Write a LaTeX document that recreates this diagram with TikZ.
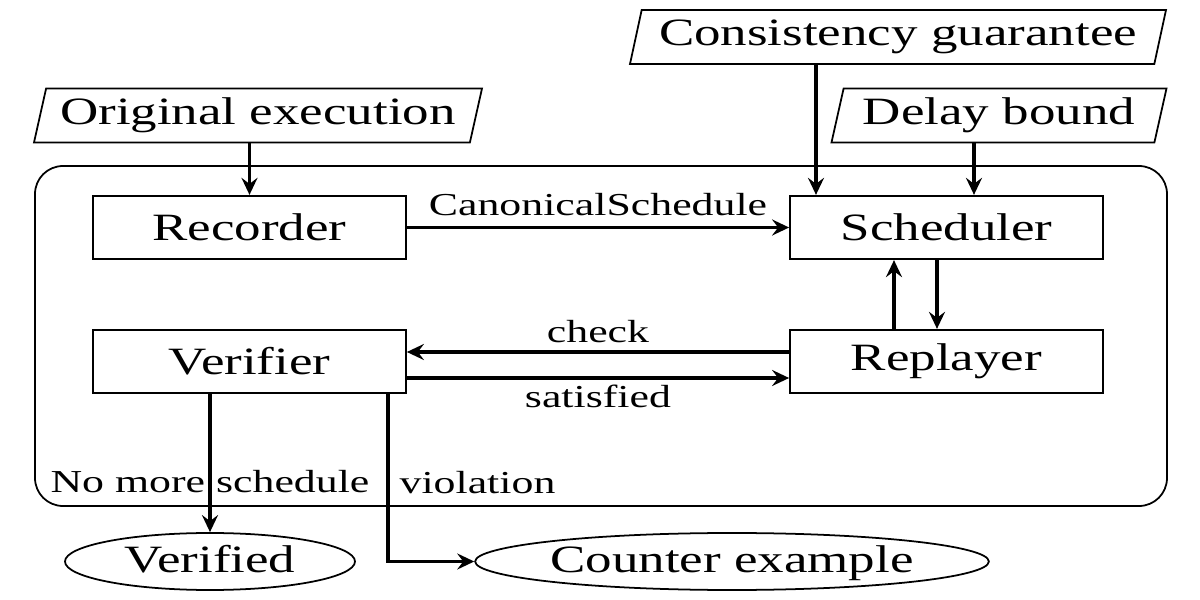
\documentclass[tikz,border=0pt]{standalone}
\usepackage{fontspec}
\setmainfont{Liberation Serif}[FakeStretch=1.37]
\usetikzlibrary{shapes.geometric,arrows.meta}

\begin{document}
\begin{tikzpicture}[thick,
  block node/.style={rectangle,draw,line width=0.5pt,minimum width=3.13cm,minimum height=0.635cm,inner sep=0pt,font=\fontsize{11}{13}\selectfont},
  input node/.style={trapezium,trapezium left angle=71,trapezium right angle=109,trapezium stretches body,draw,line width=0.5pt,minimum height=0.54cm,inner ysep=0pt,font=\fontsize{11}{13}\selectfont},
  end node/.style={ellipse,draw,line width=0.5pt,minimum height=0.57cm,inner sep=0pt,text height=0.26cm,text depth=0.03cm,font=\fontsize{11}{13}\selectfont},
  frame node/.style={rectangle,draw,line width=0.5pt,rounded corners=0.28cm,minimum width=11.32cm,minimum height=3.40cm},
  label node/.style={font=\fontsize{9.1}{11}\selectfont,inner sep=1pt},
  flow/.style={-{Stealth[length=0.17cm,width=0.16cm,inset=0.06cm]},line width=0.9pt}]
\useasboundingbox (0,0) rectangle (12,6);

\node[frame node] (frame) at (6.01,2.64) {};

\node[block node] (rec) at (2.495,3.725) {Recorder};
\node[block node] (sched) at (9.465,3.725) {Scheduler};
\node[block node] (ver) at (2.495,2.385) {Verifier};
\node[block node] (rep) at (9.465,2.385) {Replayer};

\node[input node,minimum width=4.48cm] (orig) at (2.58,4.845) {Original execution};
\node[input node,minimum width=5.36cm] (cons) at (8.98,5.63) {Consistency guarantee};
\node[input node,minimum width=3.35cm] (delay) at (9.99,4.845) {Delay bound};

\node[end node,minimum width=2.90cm] (verified) at (2.10,0.385) {Verified};
\node[end node,minimum width=5.12cm] (counter) at (7.32,0.385) {Counter example};

\coordinate (consin) at ([xshift=-1.305cm]sched.north);
\coordinate (delayin) at ([xshift=0.275cm]sched.north);
\coordinate (upin) at ([xshift=-0.525cm]rep.north);
\coordinate (downin) at ([xshift=-0.095cm]sched.south);
\coordinate (checkout) at ([yshift=0.095cm]rep.west);
\coordinate (satout) at ([yshift=-0.165cm]ver.east);
\coordinate (violout) at ([xshift=1.385cm]ver.south);

\path[flow]
(orig.south -| rec.north) edge (rec.north)
(cons.south -| consin) edge (consin)
(delay.south -| delayin) edge (delayin)
(rec) edge node[label node,above=1.85pt] (canon) {CanonicalSchedule} (sched)
(upin) edge (upin |- sched.south)
(downin) edge (downin |- rep.north)
(checkout) edge node[label node,above=1.3pt] (check) {check} (checkout -| ver.east)
(satout) edge node[label node,below=0.4pt] (sat) {satisfied} (satout -| rep.west)
(ver.south -| verified.north) edge node[label node,pos=0.714,anchor=base] (nomore) {No more schedule} (verified.north);

\draw[flow] (violout) |- node[label node,pos=0.296,anchor=base west,xshift=0.065cm] (viol) {violation} (counter.west);

\end{tikzpicture}
\end{document}
